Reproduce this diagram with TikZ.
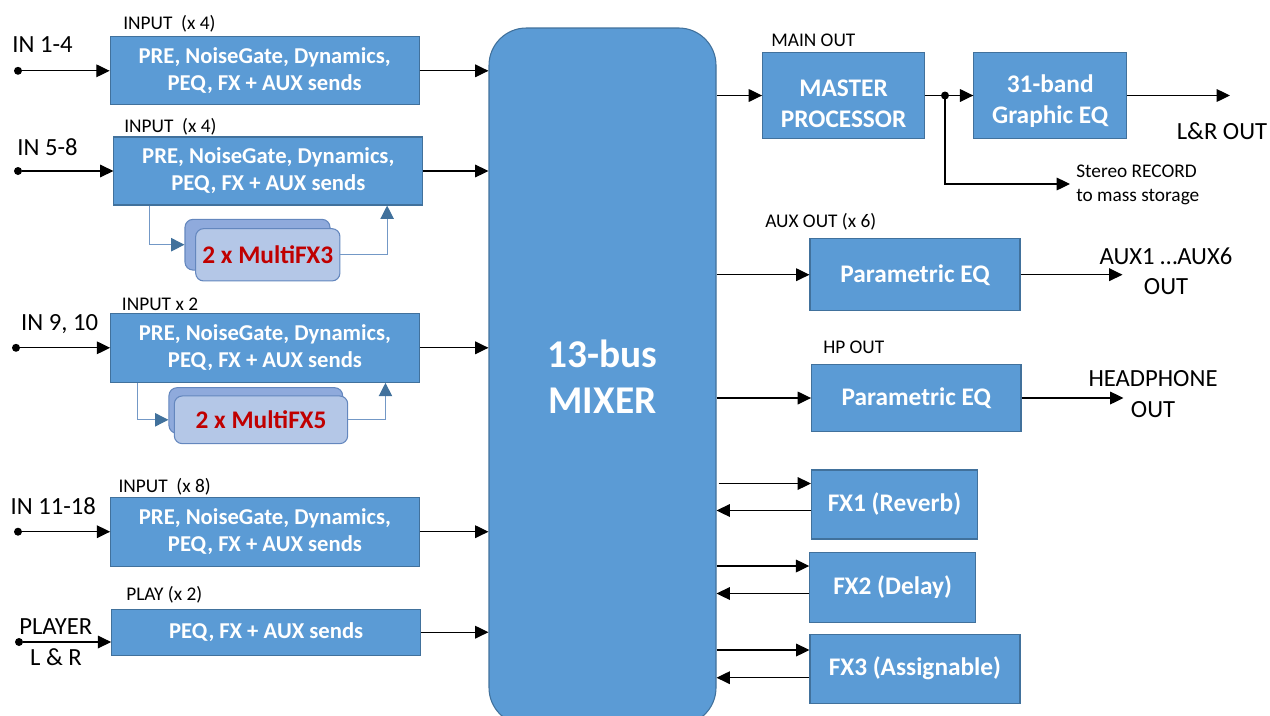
\documentclass[tikz,border=0pt]{standalone}
\usepackage{fontspec}
\setmainfont{Carlito}
\usetikzlibrary{arrows.meta,calc}
\definecolor{boxblue}{RGB}{91,155,213}
\definecolor{boxedge}{RGB}{65,113,156}
\definecolor{fxback}{RGB}{143,170,220}
\definecolor{fxfront}{RGB}{180,199,231}
\definecolor{fxedge}{RGB}{100,135,190}
\definecolor{fxred}{RGB}{192,0,0}
\definecolor{loopc}{RGB}{65,113,156}
\definecolor{loopline}{RGB}{115,152,198}
\begin{document}
\begin{tikzpicture}[x=0.75pt,y=-0.75pt,
  blk/.style={draw=boxedge, line width=0.8pt, fill=boxblue, text=white, align=center, inner sep=0pt, font=\bfseries\fontsize{17}{20.25}\selectfont},
  bigtxt/.style={font=\bfseries\fontsize{19}{23.25}\selectfont},
  sz/.style 2 args={minimum width=#1*0.75pt, minimum height=#2*0.75pt},
  fxb/.style={draw=fxedge, line width=0.8pt, fill=fxback, rounded corners=6pt, inner sep=0pt},
  fxf/.style={draw=fxedge, line width=0.8pt, fill=fxfront, rounded corners=6pt, text=fxred, font=\bfseries\fontsize{19}{23}\selectfont, inner sep=0pt},
  jdot/.style={circle, fill=black, inner sep=0pt, minimum size=6pt},
  arr/.style={draw=black, line width=0.9pt, -{Triangle[length=10pt,width=9.5pt]}},
  looparr/.style={draw=loopline, line width=0.9pt, -{Triangle[length=10pt,width=10pt,color=loopc]}},
  lbl/.style={font=\fontsize{18.5}{23}\selectfont, inner sep=0pt, align=center},
  slbl/.style={font=\fontsize{14.5}{17.8}\selectfont, inner sep=0pt, anchor=west, align=left},
  intxt/.style={text=white, align=center, inner sep=0pt, font=\bfseries\fontsize{19}{23.25}\selectfont}
]
\useasboundingbox (0,0) rectangle (1270,715);

% mixer
\node[blk, sz={227}{697}, rounded corners=28pt, font=\bfseries\fontsize{29.5}{34.5}\selectfont] (mixer) at (602.5,376.5) {13-bus\\MIXER};

% input blocks
\node[blk, sz={309}{68}] (b1) at (264.7,70.8) {PRE, NoiseGate, Dynamics,\\PEQ, FX + AUX sends};
\node[blk, sz={308.7}{68}] (b2) at (268.3,171) {PRE, NoiseGate, Dynamics,\\PEQ, FX + AUX sends};
\node[blk, sz={308.6}{69}] (b3) at (265,347.8) {PRE, NoiseGate, Dynamics,\\PEQ, FX + AUX sends};
\node[blk, sz={308.6}{68.7}] (b4) at (265,531.7) {PRE, NoiseGate, Dynamics,\\PEQ, FX + AUX sends};
\node[blk, sz={309}{45.7}] (b5) at (266.2,632.2) {PEQ, FX + AUX sends};

% labels above input blocks
\node[slbl] (l1) at (123,23.3) {INPUT~~(x 4)};
\node[slbl] (l2) at (124,126.7) {INPUT~~(x 4)};
\node[slbl] (l3) at (121.7,304) {INPUT x 2};
\node[slbl] (l4) at (118.3,486.7) {INPUT~~(x 8)};
\node[slbl] (l5) at (126,595) {PLAY (x 2)};

% input names
\node[lbl] (n1) at (42.5,45) {IN 1-4};
\node[lbl] (n2) at (47.5,146.7) {IN 5-8};
\node[lbl] (n3) at (59.7,324) {IN 9, 10};
\node[lbl] (n4) at (53.3,506) {IN 11-18};
\node[lbl] (n5) at (55.8,626.7) {PLAYER};
\node[lbl] (n6) at (56,656.7) {L \& R};

% input dots and arrows
\node[jdot] (d1) at (18,70.8) {};
\node[jdot] (d2) at (18,171) {};
\node[jdot] (d3) at (16,347.8) {};
\node[jdot] (d4) at (18,531.7) {};
\node[jdot] (d5) at (19,642) {};
\draw[arr] (d1) -- (b1.west |- d1);
\draw[arr] (d2) -- (b2.west |- d2);
\draw[arr] (d3) -- (b3.west |- d3);
\draw[arr] (d4) -- (b4.west |- d4);
\draw[arr] (d5) -- (b5.west |- d5);

% block to mixer
\draw[arr] (b1.east) -- (b1.east -| mixer.west);
\draw[arr] (b2.east) -- (b2.east -| mixer.west);
\draw[arr] (b3.east) -- (b3.east -| mixer.west);
\draw[arr] (b4.east) -- (b4.east -| mixer.west);
\draw[arr] (b5.east) -- (b5.east -| mixer.west);

% MultiFX3
\node[fxb, sz={145}{50.7}] (fx3b) at (257.5,244.7) {};
\node[fxf, sz={144.3}{52.3}] (fx3f) at (267.8,254.8) {2 x MultiFX3};
\draw[looparr] ($(b2.south west)+(35.7,0)$) |- (fx3b.west);
\draw[looparr] (fx3f.east) -| ($(b2.south west)+(273.7,0)$);

% MultiFX5
\node[fxb, sz={173.7}{45.6}] (fx5b) at (255.8,410.5) {};
\node[fxf, sz={173.4}{47.7}] (fx5f) at (261,419.8) {2 x MultiFX5};
\draw[looparr] ($(b3.south west)+(27.6,0)$) |- (fx5b.west |- fx5f.west);
\draw[looparr] (fx5f.east) -| ($(b3.south west)+(275.3,0)$);

% main out
\node[slbl] (mo) at (771,40.7) {MAIN OUT};
\node[blk, sz={162}{85.6}, label={[intxt, yshift=-6pt]center:{MASTER\\PROCESSOR}}] (mp) at (843.6,95.5) {};
\node[blk, sz={152.7}{85.6}, label={[intxt, yshift=-4pt]center:{31-band\\Graphic EQ}}] (geq) at (1050.2,95.5) {};
\node[jdot] (jn) at (945,95.5) {};
\coordinate (rec) at (1070,184);
\coordinate (lro) at (1230,95.5);
\draw[arr] (mixer.east |- mp.west) -- (mp.west);
\draw[line width=0.9pt] (mp.east) -- (jn);
\draw[arr] (jn) -- (geq.west);
\draw[arr] (jn.center) |- (rec);
\draw[arr] (geq.east) -- (lro);
\node[lbl] (lrt) at (1222,131) {L\&R OUT};
\node[slbl, font=\fontsize{14.5}{17.8}\selectfont] (rt) at (1076,185) {Stereo RECORD\\to mass storage};

% aux out
\node[slbl] (ao) at (765,221.7) {AUX OUT (x 6)};
\node[blk, bigtxt, sz={210}{72}] (peq1) at (915,274.7) {Parametric EQ};
\coordinate (auxo) at (1122.5,274.7);
\draw[arr] (mixer.east |- peq1.west) -- (peq1.west);
\draw[arr] (peq1.east) -- (auxo);
\node[lbl, font=\fontsize{18.5}{22.3}\selectfont] (auxt) at (1166,271) {AUX1 …AUX6\\OUT};

% hp out
\node[slbl] (ho) at (823,347) {HP OUT};
\node[blk, bigtxt, sz={209.4}{67.4}] (peq2) at (916.3,398) {Parametric EQ};
\coordinate (hpo) at (1123.5,398);
\draw[arr] (mixer.east |- peq2.west) -- (peq2.west);
\draw[arr] (peq2.east) -- (hpo);
\node[lbl, font=\fontsize{18.5}{23.25}\selectfont] (hpt) at (1153,394.5) {HEADPHONE\\OUT};

% FX units
\node[blk, bigtxt, sz={166}{69}] (fx1) at (894.5,504.5) {FX1 (Reverb)};
\node[blk, bigtxt, sz={165.8}{69.6}] (fx2) at (892.7,587.5) {FX2 (Delay)};
\node[blk, bigtxt, sz={210}{69.3}] (fx3) at (915,668.7) {FX3 (Assignable)};
\coordinate (f1i) at ($(fx1.west)+(0,-21)$);
\coordinate (f1o) at ($(fx1.west)+(0,6)$);
\coordinate (f2i) at ($(fx2.west)+(0,-21.5)$);
\coordinate (f2o) at ($(fx2.west)+(0,6)$);
\coordinate (f3i) at ($(fx3.west)+(0,-18.7)$);
\coordinate (f3o) at ($(fx3.west)+(0,9)$);
\draw[arr] ($(mixer.east |- f1i)+(2,0)$) -- (f1i);
\draw[arr] (f1o) -- (mixer.east |- f1o);
\draw[arr] (mixer.east |- f2i) -- (f2i);
\draw[arr] (f2o) -- (mixer.east |- f2o);
\draw[arr] (mixer.east |- f3i) -- (f3i);
\draw[arr] (f3o) -- (mixer.east |- f3o);
\end{tikzpicture}
\end{document}
